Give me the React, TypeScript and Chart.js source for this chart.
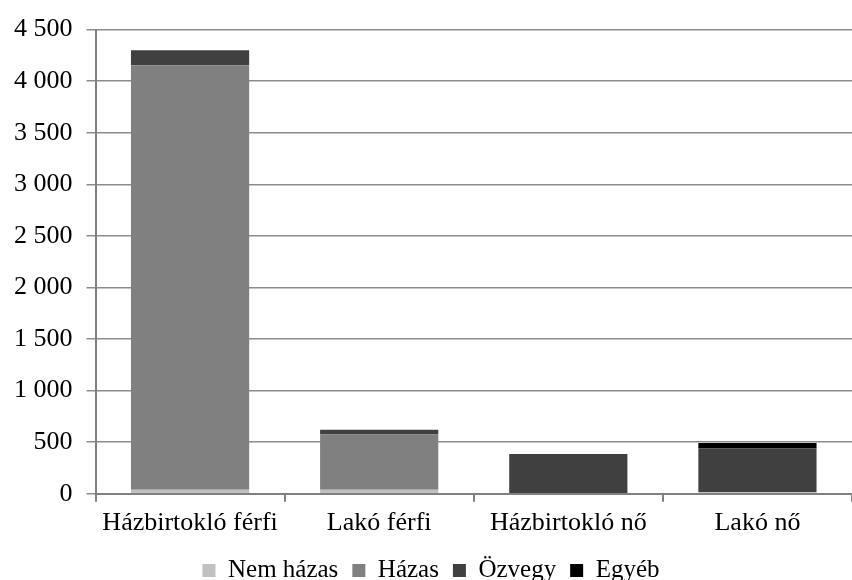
import React, { useEffect, useRef } from "react";
import { Chart, registerables } from "chart.js";

Chart.register(...registerables);

const categories = ["Házbirtokló férfi", "Lakó férfi", "Házbirtokló nő", "Lakó nő"];
const nemHazas = [40, 40, 5, 15];
const hazas = [4115, 535, 0, 0];
const ozvegy = [145, 45, 380, 425];
const egyeb = [0, 0, 0, 52];
const yTicks = [0, 500, 1000, 1500, 2000, 2500, 3000, 3500, 4000, 4500];

const fmt = (v: number) => String(v).replace(/\B(?=(\d{3})+(?!\d))/g, " ");

export default function App() {
  const ref = useRef<HTMLCanvasElement | null>(null);
  useEffect(() => {
    if (!ref.current) return;
    const family = "'Liberation Serif', 'Times New Roman', serif";
    const font = { family, size: 26 };
    const chart = new Chart(ref.current, {
      type: "bar",
      data: {
        labels: categories,
        datasets: [
          { label: "Nem házas", data: nemHazas, backgroundColor: "#c0c0c0" },
          { label: "Házas", data: hazas, backgroundColor: "#808080" },
          { label: "Özvegy", data: ozvegy, backgroundColor: "#404040" },
          { label: "Egyéb", data: egyeb, backgroundColor: "#000000" },
        ],
      },
      options: {
        animation: false,
        responsive: false,
        maintainAspectRatio: false,
        datasets: { bar: { categoryPercentage: 0.625, barPercentage: 1 } },
        layout: { padding: { top: 20, right: -10, left: 0, bottom: -13 } },
        plugins: {
          tooltip: { enabled: false },
          legend: {
            position: "bottom",
            labels: {
              color: "#000",
              font: { family, size: 25 },
              boxWidth: 13,
              boxHeight: 13,
              padding: 14,
            },
          },
        },
        scales: {
          x: {
            stacked: true,
            grid: { offset: true, drawOnChartArea: false, drawTicks: true, tickLength: 8, color: "#808080", lineWidth: 2 },
            border: { color: "#808080", width: 2 },
            ticks: { color: "#000", font, padding: 6, maxRotation: 0 },
            afterFit: (s: any) => {
              s.height -= 1;
            },
          },
          y: {
            stacked: true,
            min: 0,
            max: 4500,
            afterBuildTicks: (axis: any) => {
              axis.ticks = yTicks.map((v) => ({ value: v }));
            },
            grid: { color: "#8c8c8c", lineWidth: 1.5, tickLength: 9 },
            border: { color: "#808080", width: 2 },
            ticks: { color: "#000", font, padding: 14, callback: (v: any) => fmt(Number(v)) },
          },
        },
      },
    } as any);
    return () => chart.destroy();
  }, []);
  return (
    <div style={{ position: "fixed", left: 0, top: 0, width: 852, height: 580, background: "#fff" }}>
      <canvas ref={ref} width={852} height={580} style={{ width: 852, height: 580 }} />
    </div>
  );
}
